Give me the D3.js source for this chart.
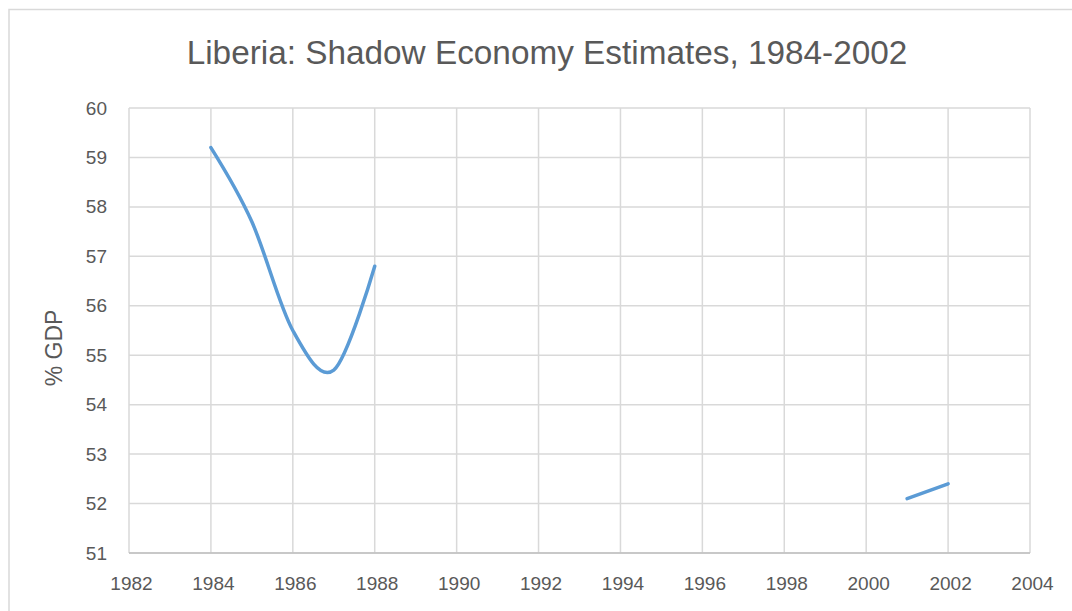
<!DOCTYPE html>
<html><head><meta charset="utf-8">
<script src="https://cdn.jsdelivr.net/npm/d3@7"></script>
<style>body{margin:0;background:#fff}svg{display:block}</style>
</head><body>
<svg id="c" width="1072" height="611"></svg>
<script>
const years = [1984,1985,1986,1987,1988,1989,1990,1991,1992,1993,1994,1995,1996,1997,1998,1999,2000,2001,2002];
const shadowEconomy = [59.2,57.7,55.5,54.7,56.8,null,null,null,null,null,null,null,null,null,null,null,null,52.1,52.4];
const xTicks = [1982,1984,1986,1988,1990,1992,1994,1996,1998,2000,2002,2004];
const yTicks = [51,52,53,54,55,56,57,58,59,60];
const title = "Liberia: Shadow Economy Estimates, 1984-2002";
const yLabel = "% GDP";

const svg = d3.select("#c");
const m = {l:129, r:1030, t:108, b:553};
const font = "'Liberation Sans', Arial, sans-serif";
const textCol = "#595959";

svg.append("rect").attr("x",9).attr("y",9.5).attr("width",1080).attr("height",620)
  .attr("fill","#fff").attr("stroke","#D9D9D9").attr("stroke-width",1.5);

const x = d3.scaleLinear().domain([1982,2004]).range([m.l,m.r]);
const y = d3.scaleLinear().domain([51,60]).range([m.b,m.t]);

// gridlines
svg.append("g").selectAll("line").data(yTicks).join("line")
  .attr("x1",m.l).attr("x2",m.r).attr("y1",d=>y(d)).attr("y2",d=>y(d))
  .attr("stroke","#D9D9D9").attr("stroke-width",1.5);
svg.append("g").selectAll("line").data(xTicks).join("line")
  .attr("x1",d=>x(d)).attr("x2",d=>x(d)).attr("y1",m.t).attr("y2",m.b)
  .attr("stroke","#D9D9D9").attr("stroke-width",1.5);
svg.append("line").attr("x1",m.l).attr("x2",m.r).attr("y1",m.b).attr("y2",m.b)
  .attr("stroke","#BFBFBF").attr("stroke-width",1.5);

// axes via d3
const ax = svg.append("g").attr("transform",`translate(2,${m.b})`)
  .call(d3.axisBottom(x).tickValues(xTicks).tickFormat(d3.format("d")).tickSize(0).tickPadding(24));
ax.select(".domain").remove();
ax.selectAll("text").attr("font-family",font).attr("font-size",19).attr("fill",textCol);

const ay = svg.append("g").attr("transform",`translate(${m.l},0)`)
  .call(d3.axisLeft(y).tickValues(yTicks).tickFormat(d3.format("d")).tickSize(0).tickPadding(22));
ay.select(".domain").remove();
ay.selectAll("text").attr("font-family",font).attr("font-size",19).attr("fill",textCol);

// line
const data = years.map((yr,i)=>({yr, v:shadowEconomy[i]}));
const line = d3.line().defined(d=>d.v!==null).x(d=>x(d.yr)).y(d=>y(d.v)).curve(d3.curveCardinal.tension(0));
svg.append("path").datum(data).attr("d",line).attr("fill","none")
  .attr("stroke","#5B9BD5").attr("stroke-width",3.5).attr("stroke-linecap","round").attr("stroke-linejoin","round");

// title
const t = svg.append("text").attr("x",547).attr("y",64).attr("text-anchor","middle")
  .attr("font-family",font).attr("font-size",28).attr("fill",textCol).text(title);
const w = t.node().getComputedTextLength();
t.attr("font-size", 28*721/w);

svg.append("text").attr("transform","translate(62,348) rotate(-90)").attr("text-anchor","middle")
  .attr("font-family",font).attr("font-size",23).attr("fill",textCol).text(yLabel);
</script>
</body></html>
